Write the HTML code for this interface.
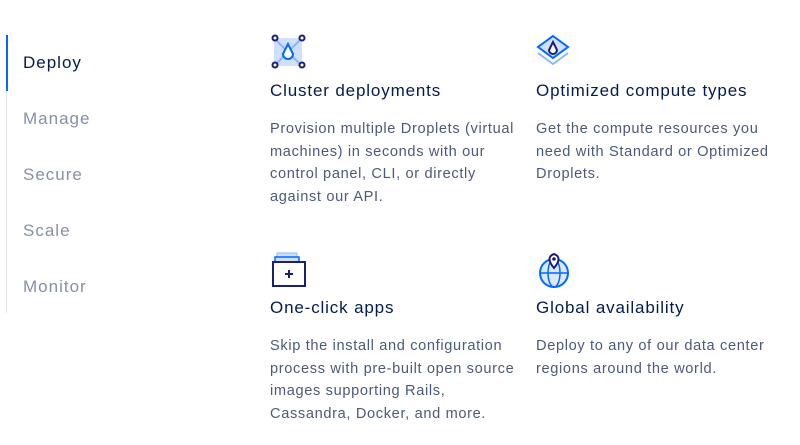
<!DOCTYPE html><html><head><style>
body{margin:0;width:800px;height:445px;background:#fff;font-family:"Liberation Sans",sans-serif;position:relative;overflow:hidden}
.bar{position:absolute;left:6px;top:35px;width:1px;height:278px;background:#e4e7ee}
.bar2{position:absolute;left:6px;top:35px;width:2px;height:56px;background:#0069ff}
.nav{position:absolute;left:23px;font-size:17px;color:#8590a8;letter-spacing:1px}
.h{position:absolute;font-size:17px;color:#031b4e;letter-spacing:.85px}
.p{position:absolute;font-size:14.6px;line-height:22.5px;color:#4b5a7a;width:256px;letter-spacing:.65px}
svg{position:absolute}
</style></head><body>
<div class="bar"></div><div class="bar2"></div>
<div class="nav" style="top:53px;color:#031b4e">Deploy</div>
<div class="nav" style="top:109px">Manage</div>
<div class="nav" style="top:165px">Secure</div>
<div class="nav" style="top:221px">Scale</div>
<div class="nav" style="top:277px">Monitor</div>

<svg style="left:270px;top:33px" width="38" height="38"><rect x="4" y="5" width="28" height="28" fill="#cfe0ff"/><line x1="6" y1="7" x2="30" y2="31" stroke="#8fb5ff" stroke-width="2"/><line x1="30" y1="7" x2="6" y2="31" stroke="#8fb5ff" stroke-width="2"/><g fill="#fff" stroke="#1c1d74" stroke-width="2"><circle cx="5" cy="5" r="2.5"/><circle cx="32" cy="5" r="2.5"/><circle cx="5" cy="32" r="2.5"/><circle cx="32" cy="32" r="2.5"/></g><path d="M18 11 L13 21 A5 5 0 0 0 23 21 Z" fill="#fff" stroke="#0069ff" stroke-width="2"/></svg>
<div class="h" style="left:270px;top:81px">Cluster deployments</div>
<div class="p" style="left:270px;top:118px">Provision multiple Droplets (virtual machines) in seconds with our control panel, CLI, or directly against our API.</div>

<svg style="left:535px;top:33px" width="38" height="38"><path d="M18 3 L33 14 L18 25 L3 14Z" fill="#cfe0ff" stroke="#0069ff" stroke-width="2"/><path d="M3 20 L18 31 L33 20" fill="none" stroke="#8fb5ff" stroke-width="2"/><path d="M18 9 L14 17 A4 4 0 0 0 22 17 Z" fill="#fff" stroke="#1c1d74" stroke-width="2"/></svg>
<div class="h" style="left:536px;top:81px">Optimized compute types</div>
<div class="p" style="left:536px;top:118px;width:250px">Get the compute resources you need with Standard or Optimized Droplets.</div>

<svg style="left:270px;top:250px" width="40" height="40"><rect x="7" y="3" width="20" height="4" fill="#cfe0ff" stroke="#8fb5ff"/><rect x="5" y="7" width="24" height="5" fill="#cfe0ff" stroke="#0069ff" stroke-width="1.5"/><rect x="3" y="12" width="32" height="24" fill="#fff" stroke="#1c1d74" stroke-width="2"/><path d="M19 20v8M15 24h8" stroke="#1c1d74" stroke-width="2"/></svg>
<div class="h" style="left:270px;top:298px">One-click apps</div>
<div class="p" style="left:270px;top:335px">Skip the install and configuration process with pre-built open source images supporting Rails, Cassandra, Docker, and more.</div>

<svg style="left:535px;top:250px" width="40" height="40"><circle cx="19" cy="23" r="14" fill="#dbe8ff" stroke="#0069ff" stroke-width="2"/><ellipse cx="19" cy="23" rx="6" ry="14" fill="none" stroke="#0069ff" stroke-width="1.5"/><line x1="5" y1="23" x2="33" y2="23" stroke="#0069ff" stroke-width="1.5"/><path d="M19 18 C13 11 13 6 19 4 C25 6 25 11 19 18Z" fill="#fff" stroke="#1c1d74" stroke-width="2"/><circle cx="19" cy="9" r="1.8" fill="#1c1d74"/></svg>
<div class="h" style="left:536px;top:298px">Global availability</div>
<div class="p" style="left:536px;top:335px;width:240px">Deploy to any of our data center regions around the world.</div>
</body></html>
